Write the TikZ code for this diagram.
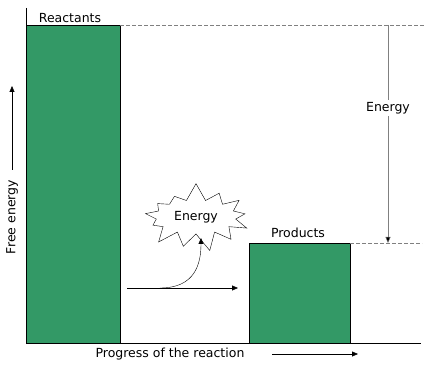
\documentclass[tikz,border=0pt]{standalone}
\usepackage{fontspec}
\setmainfont{DejaVu Sans}
\usetikzlibrary{arrows.meta,positioning,shapes.symbols}
\definecolor{bargreen}{RGB}{51,153,102}

\begin{document}
\begin{tikzpicture}[x=1pt,y=1pt,
					every node/.style={font=\fontsize{12.5}{14}\selectfont},
					bar/.style={draw=black, fill=bargreen},
					levelline/.style={draw=gray, dash pattern=on 3.5pt off 2.5pt},
					arr/.style={-{Triangle[length=6pt,width=5pt]}}]
				\useasboundingbox (0,0) rectangle (436,364);
				% bars
				\draw[bar] (26,21) rectangle (120,339);
				\draw[bar] (249,21) rectangle (350,121);
				% axes
				\coordinate (origin) at (26,21);
				\coordinate (ytop) at (26,356);
				\coordinate (xend) at (421,21);
				\draw (ytop) -- (origin) -- (xend);
				% energy levels
				\coordinate (rtop) at (120,339);
				\coordinate (rend) at (425,339);
				\coordinate (ptop) at (350,121);
				\coordinate (pend) at (422,121);
				\draw[levelline] (rtop) -- (rend);
				\draw[levelline] (ptop) -- (pend);
				\node (reactants) at (70,346) {Reactants};
				\node (products) at (298,131) {Products};
				% energy difference
				\coordinate (ehigh) at (388,339);
				\coordinate (elow) at (388,121);
				\draw[arr, gray, -{Triangle[length=6pt,width=5pt,fill=black]}] (ehigh) -- (elow);
				\node[fill=white, inner sep=2pt] (energy) at (388,256) {Energy};
				% axis labels
				\node[rotate=90] (freeenergy) at (12,147) {Free energy};
				\coordinate (fe1) at (12,194);
				\coordinate (fe2) at (12,278);
				\draw[arr] (fe1) -- (fe2);
				\node (progress) at (170,10) {Progress of the reaction};
				\coordinate (pr1) at (272,10);
				\coordinate (pr2) at (358,10);
				\draw[arr] (pr1) -- (pr2);
				% released energy
				\node[starburst, draw, fill=white, minimum width=116pt, minimum height=70pt,
					starburst points=13, starburst point height=18pt, random starburst=7,
					inner sep=0pt] (burst) at (196,147) {Energy};
				\coordinate (h1) at (127,76);
				\coordinate (h2) at (238,76);
				\coordinate (cstart) at (160,76);
				\coordinate (ctip) at (201,126);
				\draw[arr] (h1) -- (h2);
				\draw[arr] (cstart) .. controls (195,76) and (201,100) .. (ctip);
			\end{tikzpicture}
\end{document}
